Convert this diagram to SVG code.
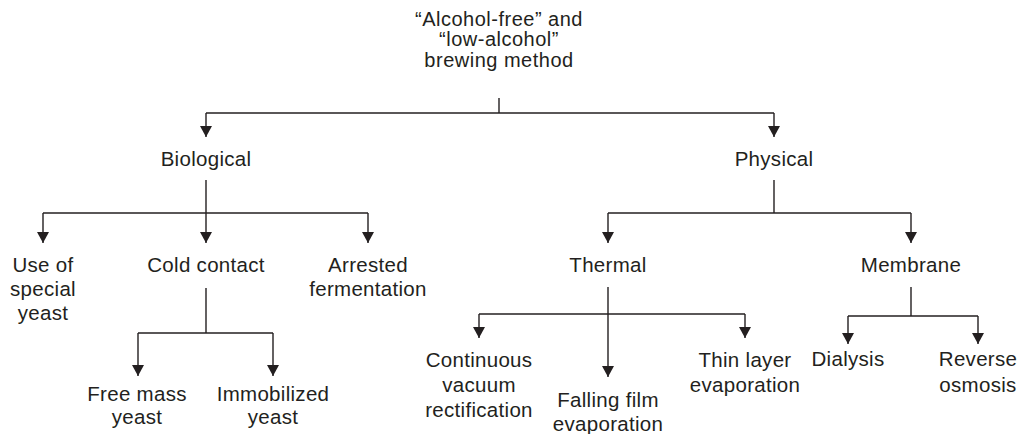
<svg xmlns="http://www.w3.org/2000/svg" width="1021" height="434" viewBox="0 0 1021 434">
<style>
text{font-family:"Liberation Sans",Arial,sans-serif;font-size:20.5px;letter-spacing:0.3px;fill:#231f20;text-anchor:middle}
#root text{font-size:20px;letter-spacing:0.5px}
.c line,.c path{stroke:#231f20;stroke-width:1.4;fill:none}
</style>
<defs>
<marker id="ah" markerWidth="11" markerHeight="12" refX="11" refY="6" orient="auto" markerUnits="userSpaceOnUse" viewBox="0 0 11 12">
<path d="M0,0 L11,6 L0,12 Z" fill="#231f20"/>
</marker>
</defs>
<rect width="1021" height="434" fill="#fff"/>
<g class="c" id="connectors">
<line x1="499" y1="98" x2="499" y2="113"/>
<path d="M206,113 H774"/>
<line x1="206" y1="113" x2="206" y2="137" marker-end="url(#ah)"/>
<line x1="774" y1="113" x2="774" y2="137" marker-end="url(#ah)"/>
<line x1="206" y1="180" x2="206" y2="213"/>
<path d="M43,213 H368"/>
<line x1="43" y1="213" x2="43" y2="243" marker-end="url(#ah)"/>
<line x1="206" y1="213" x2="206" y2="243" marker-end="url(#ah)"/>
<line x1="368" y1="213" x2="368" y2="243" marker-end="url(#ah)"/>
<line x1="774" y1="180" x2="774" y2="213"/>
<path d="M608,213 H911"/>
<line x1="608" y1="213" x2="608" y2="243" marker-end="url(#ah)"/>
<line x1="911" y1="213" x2="911" y2="243" marker-end="url(#ah)"/>
<line x1="206" y1="288" x2="206" y2="333"/>
<path d="M138,333 H273"/>
<line x1="138" y1="333" x2="138" y2="376" marker-end="url(#ah)"/>
<line x1="273" y1="333" x2="273" y2="376" marker-end="url(#ah)"/>
<line x1="608" y1="287" x2="608" y2="377" marker-end="url(#ah)"/>
<path d="M479,314 H745"/>
<line x1="479" y1="314" x2="479" y2="338" marker-end="url(#ah)"/>
<line x1="745" y1="314" x2="745" y2="338" marker-end="url(#ah)"/>
<line x1="911" y1="287" x2="911" y2="316"/>
<path d="M848,316 H978"/>
<line x1="848" y1="316" x2="848" y2="344" marker-end="url(#ah)"/>
<line x1="978" y1="316" x2="978" y2="344" marker-end="url(#ah)"/>
</g>
<g id="root"><text x="499" y="26">“Alcohol-free” and</text><text x="499" y="46">“low-alcohol”</text><text x="499" y="67">brewing method</text></g>
<g id="biological"><text x="206" y="166">Biological</text></g>
<g id="physical"><text x="774" y="166">Physical</text></g>
<g id="special-yeast"><text x="43" y="272">Use of</text><text x="43" y="296">special</text><text x="43" y="320">yeast</text></g>
<g id="cold-contact"><text x="206" y="272">Cold contact</text></g>
<g id="arrested"><text x="368" y="272">Arrested</text><text x="368" y="296">fermentation</text></g>
<g id="thermal"><text x="608" y="272">Thermal</text></g>
<g id="membrane"><text x="911" y="272">Membrane</text></g>
<g id="free-mass"><text x="137" y="401">Free mass</text><text x="137" y="424">yeast</text></g>
<g id="immobilized"><text x="273" y="401">Immobilized</text><text x="273" y="424">yeast</text></g>
<g id="continuous"><text x="479" y="367">Continuous</text><text x="479" y="392">vacuum</text><text x="479" y="417">rectification</text></g>
<g id="falling-film"><text x="608" y="407">Falling film</text><text x="608" y="431">evaporation</text></g>
<g id="thin-layer"><text x="745" y="367">Thin layer</text><text x="745" y="392">evaporation</text></g>
<g id="dialysis"><text x="848" y="366">Dialysis</text></g>
<g id="reverse-osmosis"><text x="978" y="366">Reverse</text><text x="978" y="392">osmosis</text></g>
</svg>
